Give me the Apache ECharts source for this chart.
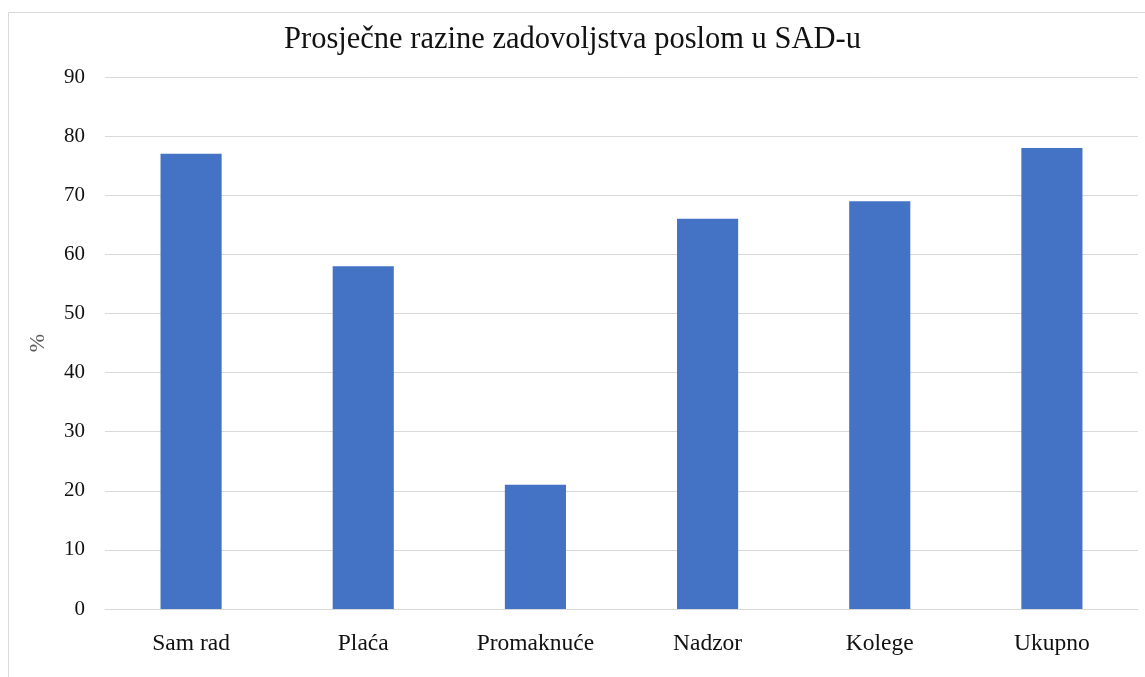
<!DOCTYPE html>
<html>
<head>
<meta charset="utf-8">
<script src="https://cdn.jsdelivr.net/npm/echarts@6/dist/echarts.min.js"></script>
<style>
  html, body { margin: 0; padding: 0; background: #fff; }
  #main { width: 1145px; height: 677px; }
</style>
</head>
<body>
<div id="main"></div>
<script>
// podaci s grafikona
var categories = ['Sam rad', 'Plaća', 'Promaknuće', 'Nadzor', 'Kolege', 'Ukupno'];
var values = [77, 58, 21, 66, 69, 78];
var yTicks = { min: 0, max: 90, interval: 10 };

var serif = '"Liberation Serif", "DejaVu Serif", serif';

const Chart = echarts.init(document.getElementById('main'), null, { renderer: 'canvas' });

var option = {
    backgroundColor: '#fff',
    animation: false,
    title: {
        text: 'Prosječne razine zadovoljstva poslom u SAD-u',
        left: 'center',
        top: 19,
        textStyle: {
            fontFamily: serif,
            fontSize: 30.5,
            fontWeight: 'normal',
            color: '#111'
        }
    },
    // tanki okvir oko grafikona
    graphic: [{
        type: 'rect',
        shape: { x: 8.5, y: 12.5, width: 1145, height: 700 },
        style: { fill: 'none', stroke: '#d9d9d9', lineWidth: 1 },
        silent: true
    }],
    grid: {
        left: 105,
        right: 7,
        top: 77,
        bottom: 68
    },
    xAxis: {
        type: 'category',
        data: categories,
        axisLine: { show: true, lineStyle: { color: '#d9d9d9', width: 1 } },
        axisTick: { show: false },
        axisLabel: {
            fontFamily: serif,
            fontSize: 23.5,
            color: '#111',
            margin: 23
        }
    },
    yAxis: {
        type: 'value',
        min: yTicks.min,
        max: yTicks.max,
        interval: yTicks.interval,
        name: '%',
        nameLocation: 'middle',
        nameGap: 56,
        nameRotate: 90,
        nameTextStyle: {
            fontFamily: serif,
            fontSize: 22,
            color: '#595959'
        },
        axisLine: { show: false },
        axisTick: { show: false },
        axisLabel: {
            fontFamily: serif,
            fontSize: 21,
            color: '#111',
            margin: 20
        },
        splitLine: { lineStyle: { color: '#d9d9d9', width: 1 } }
    },
    series: [{
        type: 'bar',
        data: values,
        barWidth: '35.5%',
        itemStyle: { color: '#4472c4' }
    }]
};

Chart.setOption(option, true);
</script>
</body>
</html>
